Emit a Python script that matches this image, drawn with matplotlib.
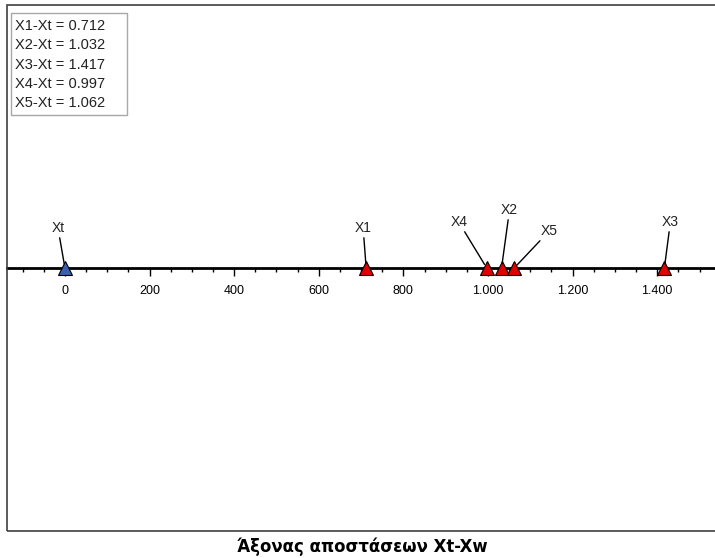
import matplotlib
matplotlib.use("Agg")
import matplotlib.pyplot as plt
from matplotlib.patches import Rectangle
from matplotlib.ticker import MultipleLocator, FuncFormatter

# points on the distance axis
names = ["Xt", "X1", "X2", "X3", "X4", "X5"]
dist = [0, 712, 1032, 1417, 997, 1062]
colors = ["#3a5fb0", "#e00000", "#e00000", "#e00000", "#e00000", "#e00000"]
# label offsets from each marker (pixels)
label_dx = [-7, -3, 8, 6, -28, 35]
label_dy = [40, 40, 58, 46, 46, 37]

summary = ["X1-Xt = 0.712", "X2-Xt = 1.032", "X3-Xt = 1.417",
           "X4-Xt = 0.997", "X5-Xt = 1.062"]

plt.rcParams["font.family"] = ["Liberation Sans", "DejaVu Sans"]

W, H = 715, 558
fig = plt.figure(figsize=(W / 100, H / 100), dpi=100)
ax = fig.add_axes([7 / W, 27 / H, (716 - 7) / W, (531 - 5) / H])

ax.set_xlim(-137, 1539)
ax.set_ylim(-1, 1)

for s in ["top", "left", "right"]:
    ax.spines[s].set_visible(False)
ax.spines["bottom"].set_position(("data", 0))
ax.spines["bottom"].set_linewidth(2)
ax.spines["bottom"].set_color("black")
ax.set_yticks([])

ax.xaxis.set_major_locator(MultipleLocator(200))
ax.xaxis.set_minor_locator(MultipleLocator(50))
ax.xaxis.set_major_formatter(FuncFormatter(lambda v, p: f"{int(v):,}".replace(",", ".")))
ax.tick_params(axis="x", which="major", length=6, width=1, direction="out",
               labelsize=9, colors="black", pad=6)
ax.tick_params(axis="x", which="minor", length=3, width=1, direction="out")

for n, d, c, dx, dy in zip(names, dist, colors, label_dx, label_dy):
    ax.plot(d, 0.0, marker="^", markersize=10, color=c, markeredgecolor="black",
            markeredgewidth=0.8, linestyle="none", zorder=5, clip_on=False)
    ax.annotate(n, xy=(d, 0.0), xytext=(dx, dy), textcoords="offset pixels",
                ha="center", va="center", fontsize=10, color="#222222",
                arrowprops=dict(arrowstyle="-", color="black", lw=1,
                                shrinkA=0, shrinkB=3), zorder=6)

# summary box
fig.add_artist(Rectangle((11 / W, 1 - 115 / H), (127 - 11) / W, (115 - 13) / H,
                         transform=fig.transFigure, facecolor="white",
                         edgecolor="#a8a8a8", linewidth=1))
fig.text(15 / W, 1 - 19 / H, "\n".join(summary), ha="left", va="top",
         fontsize=10.5, color="#222222", linespacing=1.48)

# outer frame
fig.add_artist(Rectangle((7 / W, 27 / H), 1.0, (531 - 5) / H, transform=fig.transFigure,
                         fill=False, edgecolor="#404040", linewidth=1.2))

fig.text(362 / W, 1 - 547 / H, "Άξονας αποστάσεων Xt-Xw", ha="center", va="center",
         fontsize=11.9, fontweight="bold", family=["DejaVu Sans"])

fig.savefig("out.png", dpi=100)
